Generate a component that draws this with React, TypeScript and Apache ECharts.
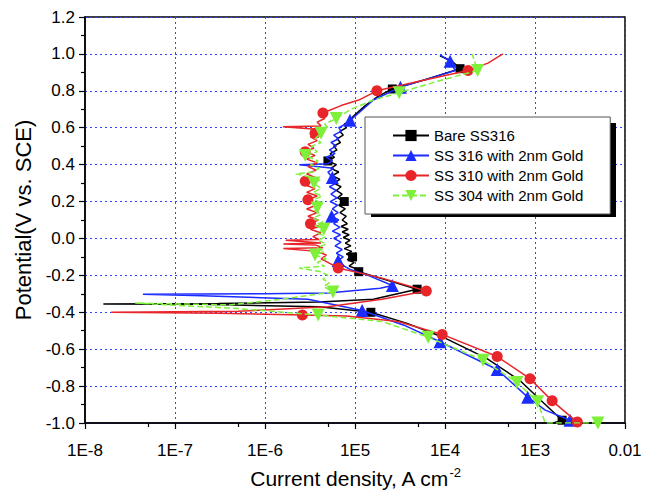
import React, { useEffect, useRef } from 'react';
import * as echarts from 'echarts';

const FONT = '"Liberation Sans", Arial, sans-serif';

const xTickLabels = ['1E-8', '1E-7', '1E-6', '1E5', '1E4', '1E3', '0.01'];
const xMinorTicks = [5e-8, 5e-7, 5e-6, 5e-5, 5e-4, 5e-3];
const seriesNames = ['Bare SS316', 'SS 316 with 2nm Gold', 'SS 310 with 2nm Gold', 'SS 304 with 2nm Gold'];

// [current density (A cm-2), potential (V vs SCE), marker shown (1/0)]
const bareSS316: number[][] = [
  [1.6e-3, -1.0, 0], [2.0e-3, -0.985, 1], [1.15e-3, -0.875, 0], [6.8e-4, -0.77, 0], [2.9e-4, -0.65, 0],
  [9.5e-5, -0.535, 0], [3.8e-5, -0.46, 0], [1.5e-5, -0.40, 1], [4e-6, -0.37, 0], [2e-7, -0.357, 0],
  [1.6e-8, -0.355, 0], [3e-7, -0.352, 0], [4e-6, -0.345, 0], [1.6e-5, -0.33, 0], [4.9e-5, -0.275, 1],
  [1.9e-5, -0.215, 0], [1.1e-5, -0.18, 1], [9.8e-6, -0.16, 0], [8.6e-6, -0.15, 0], [9.8e-6, -0.13, 0],
  [8.2e-6, -0.115, 0], [9.4e-6, -0.1, 1], [8.0e-6, -0.085, 0], [9.2e-6, -0.07, 0], [7.6e-6, -0.055, 0],
  [9.0e-6, -0.04, 0], [7.8e-6, -0.025, 0], [8.8e-6, -0.01, 0], [7.4e-6, 0.005, 0], [8.6e-6, 0.02, 0],
  [7.2e-6, 0.035, 0], [8.4e-6, 0.05, 0], [7.0e-6, 0.065, 0], [8.2e-6, 0.08, 0], [7.2e-6, 0.1, 0],
  [8.0e-6, 0.12, 0], [6.8e-6, 0.14, 0], [7.8e-6, 0.16, 0], [6.6e-6, 0.18, 0], [7.6e-6, 0.2, 1],
  [6.4e-6, 0.22, 0], [7.2e-6, 0.24, 0], [6.2e-6, 0.26, 0], [7.0e-6, 0.28, 0], [5.8e-6, 0.3, 0],
  [6.8e-6, 0.32, 0], [5.6e-6, 0.34, 0], [6.6e-6, 0.36, 0], [5.4e-6, 0.38, 0], [6.2e-6, 0.4, 0],
  [5.0e-6, 0.42, 1], [5.9e-6, 0.44, 0], [5.3e-6, 0.46, 0], [6.3e-6, 0.48, 0], [5.8e-6, 0.5, 0],
  [6.9e-6, 0.52, 0], [6.3e-6, 0.54, 0], [7.4e-6, 0.56, 0], [6.8e-6, 0.58, 0], [8.0e-6, 0.6, 0],
  [7.6e-6, 0.62, 0], [9.0e-6, 0.64, 0], [9.5e-6, 0.66, 0], [1.3e-5, 0.72, 0], [1.8e-5, 0.77, 0],
  [2.6e-5, 0.81, 1], [6e-5, 0.86, 0], [1.47e-4, 0.92, 1], [1.2e-4, 0.96, 0], [8.8e-5, 0.99, 0],
];

const ss316Gold: number[][] = [
  [2.2e-3, -1.0, 0], [2.45e-3, -0.985, 1], [1.3e-3, -0.93, 0], [8.3e-4, -0.86, 1], [3.8e-4, -0.71, 1],
  [8.8e-5, -0.56, 1], [3.5e-5, -0.47, 0], [1.2e-5, -0.39, 1], [3e-6, -0.33, 0], [2e-7, -0.31, 0],
  [4.4e-8, -0.303, 0], [1e-6, -0.30, 0], [5e-6, -0.295, 0], [1.9e-5, -0.27, 0], [2.6e-5, -0.255, 1],
  [1.4e-5, -0.2, 0], [9e-6, -0.17, 0], [7.6e-6, -0.15, 0], [6.5e-6, -0.12, 1], [7.4e-6, -0.1, 0],
  [6.2e-6, -0.08, 0], [7.2e-6, -0.06, 0], [6.0e-6, -0.04, 0], [7.0e-6, -0.02, 0], [5.8e-6, 0.0, 0],
  [6.9e-6, 0.02, 0], [5.6e-6, 0.04, 0], [6.8e-6, 0.06, 0], [5.8e-6, 0.08, 0], [6.6e-6, 0.1, 0],
  [5.5e-6, 0.12, 1], [6.5e-6, 0.14, 0], [5.6e-6, 0.16, 0], [6.4e-6, 0.18, 0], [5.3e-6, 0.2, 0],
  [6.3e-6, 0.22, 0], [5.4e-6, 0.24, 0], [6.2e-6, 0.26, 0], [5.2e-6, 0.28, 0], [6.2e-6, 0.3, 0],
  [5.6e-6, 0.33, 1], [5.0e-6, 0.36, 0], [5.8e-6, 0.38, 0], [2.4e-6, 0.40, 0], [5.0e-6, 0.405, 0],
  [5.6e-6, 0.42, 0], [4.8e-6, 0.44, 0], [6.0e-6, 0.46, 0], [5.2e-6, 0.48, 0], [6.2e-6, 0.5, 0],
  [5.4e-6, 0.52, 0], [6.6e-6, 0.54, 0], [5.8e-6, 0.56, 0], [7.0e-6, 0.58, 0], [6.6e-6, 0.6, 0],
  [7.8e-6, 0.62, 0], [8.8e-6, 0.64, 1], [1.1e-5, 0.68, 0], [1.6e-5, 0.75, 0], [3.2e-5, 0.82, 1],
  [7e-5, 0.87, 0], [1.3e-4, 0.91, 0], [1.14e-4, 0.96, 1], [8.8e-5, 0.995, 0],
];

const ss310Gold: number[][] = [
  [3.2e-3, -1.0, 0], [2.95e-3, -0.995, 1], [1.55e-3, -0.88, 1], [8.8e-4, -0.76, 1], [3.8e-4, -0.64, 1],
  [9.3e-5, -0.52, 1], [3e-5, -0.45, 0], [8e-6, -0.42, 0], [2.6e-6, -0.415, 1], [3e-7, -0.405, 0],
  [1.95e-8, -0.40, 0], [5e-7, -0.395, 0], [5e-6, -0.37, 0], [2e-5, -0.33, 0], [6.2e-5, -0.285, 1],
  [2e-5, -0.215, 0], [6.5e-6, -0.16, 1], [5e-6, -0.13, 0], [4.2e-6, -0.11, 0], [4.8e-6, -0.09, 0],
  [3.8e-6, -0.07, 0], [1.6e-6, -0.055, 0], [4.4e-6, -0.05, 0], [3.6e-6, -0.035, 0], [1.6e-6, -0.03, 0],
  [4.2e-6, -0.025, 0], [1.7e-6, -0.01, 0], [4.0e-6, -0.005, 0], [3.4e-6, 0.01, 0], [4.2e-6, 0.03, 0],
  [3.2e-6, 0.05, 0], [4.0e-6, 0.065, 0], [3.2e-6, 0.08, 1], [3.9e-6, 0.1, 0], [3.0e-6, 0.12, 0],
  [3.8e-6, 0.14, 0], [2.9e-6, 0.16, 0], [3.7e-6, 0.18, 0], [3.0e-6, 0.21, 1], [3.8e-6, 0.23, 0],
  [2.9e-6, 0.25, 0], [3.6e-6, 0.27, 0], [2.8e-6, 0.29, 0], [2.8e-6, 0.31, 1], [3.6e-6, 0.33, 0],
  [2.9e-6, 0.35, 0], [3.7e-6, 0.37, 0], [3.0e-6, 0.39, 0], [3.8e-6, 0.41, 0], [2.9e-6, 0.43, 0],
  [3.6e-6, 0.45, 0], [2.8e-6, 0.47, 1], [3.5e-6, 0.49, 0], [3.0e-6, 0.51, 0], [3.8e-6, 0.53, 0],
  [3.2e-6, 0.55, 0], [3.6e-6, 0.57, 1], [4.0e-6, 0.59, 0], [1.58e-6, 0.605, 0], [4.2e-6, 0.61, 0],
  [3.8e-6, 0.63, 0], [4.6e-6, 0.65, 0], [4.4e-6, 0.68, 1], [7e-6, 0.72, 0], [1.1e-5, 0.75, 0],
  [1.75e-5, 0.80, 1], [5e-5, 0.85, 0], [1.8e-4, 0.91, 1], [3e-4, 0.95, 0], [4.4e-4, 1.0, 0],
];

const ss304Gold: number[][] = [
  [5e-3, -1.0, 1], [1.3e-3, -1.0, 0], [1.07e-3, -0.885, 1], [6.3e-4, -0.78, 1], [2.65e-4, -0.66, 1],
  [6.5e-5, -0.535, 1], [2e-5, -0.45, 0], [3.9e-6, -0.415, 1], [5e-7, -0.38, 0], [3.6e-8, -0.35, 0],
  [4e-7, -0.36, 0], [1.5e-6, -0.33, 0], [5.7e-6, -0.29, 1], [4.5e-6, -0.26, 0], [5.2e-6, -0.24, 0],
  [4.4e-6, -0.22, 0], [5e-6, -0.2, 0], [4.2e-6, -0.18, 0], [2.4e-6, -0.16, 0], [4.6e-6, -0.15, 0],
  [3.8e-6, -0.13, 0], [4.8e-6, -0.11, 0], [3.6e-6, -0.09, 1], [4.6e-6, -0.07, 0], [3.8e-6, -0.05, 0],
  [4.8e-6, -0.03, 0], [3.9e-6, -0.01, 0], [4.7e-6, 0.01, 0], [3.8e-6, 0.03, 0], [4.5e-6, 0.05, 1],
  [3.6e-6, 0.07, 0], [4.4e-6, 0.09, 0], [3.4e-6, 0.11, 0], [4.2e-6, 0.13, 0], [3.6e-6, 0.15, 0],
  [3.8e-6, 0.165, 1], [4.4e-6, 0.19, 0], [3.5e-6, 0.21, 0], [4.3e-6, 0.23, 0], [3.4e-6, 0.25, 0],
  [4.2e-6, 0.27, 0], [3.5e-6, 0.3, 1], [4.2e-6, 0.32, 0], [2.2e-6, 0.35, 0], [3.4e-6, 0.36, 0],
  [4.0e-6, 0.38, 0], [3.2e-6, 0.4, 0], [3.9e-6, 0.42, 0], [2.8e-6, 0.45, 1], [3.8e-6, 0.47, 0],
  [3.3e-6, 0.5, 0], [4.2e-6, 0.52, 0], [3.6e-6, 0.54, 0], [4.2e-6, 0.57, 1], [5.0e-6, 0.6, 0],
  [4.6e-6, 0.62, 0], [6.2e-6, 0.65, 1], [9e-6, 0.70, 0], [1.6e-5, 0.75, 0], [3.1e-5, 0.79, 1],
  [8e-5, 0.85, 0], [2.3e-4, 0.91, 1], [2e-4, 1.0, 0],
];

const seriesData = [bareSS316, ss316Gold, ss310Gold, ss304Gold];
const seriesColors = ['#000000', '#1a2cff', '#e8262a', '#7ef03a'];
const seriesSymbols = ['rect', 'triangle', 'circle', 'triangle'];
const seriesSymbolSizes = [9, 13, 11, 13];
const seriesSymbolRotate = [0, 0, 0, 180];
const seriesLineTypes: any[] = ['solid', 'solid', 'solid', [6, 3]];

function toData(points: number[][]) {
  return points.map(([x, y, m]) => (m ? { value: [x, y] } : { value: [x, y], symbol: 'none' }));
}

export default function App() {
  const ref = useRef<HTMLDivElement>(null);
  useEffect(() => {
    if (!ref.current) return;
    const chart = echarts.init(ref.current, undefined, { renderer: 'svg' });
    const series = seriesNames.map((name, i) => ({
      type: 'line',
      name,
      data: toData(seriesData[i]),
      symbol: seriesSymbols[i],
      symbolSize: seriesSymbolSizes[i],
      symbolRotate: seriesSymbolRotate[i],
      showSymbol: true,
      color: seriesColors[i],
      itemStyle: { color: seriesColors[i] },
      lineStyle: { color: seriesColors[i], width: 1.5, type: seriesLineTypes[i] },
      z: 2 + i,
    }));
    const option: any = {
      animation: false,
      backgroundColor: '#fff',
      textStyle: { fontFamily: FONT },
      grid: {
        left: 85, right: 25, top: 17, bottom: 67,
        outerBoundsMode: 'none',
        containLabel: false,
        show: true, borderColor: '#000', borderWidth: 1.5, backgroundColor: 'transparent',
      },
      xAxis: [
        {
          type: 'log', logBase: 10, min: 1e-8, max: 1e-2, splitNumber: 6,
          position: 'bottom',
          axisLine: { show: true, onZero: false, lineStyle: { color: '#000', width: 1.5 } },
          axisTick: { show: true, inside: false, length: 6, lineStyle: { color: '#000', width: 1.2 } },
          splitLine: { show: true, lineStyle: { color: '#3344ff', type: [2, 3], width: 1 } },
          axisLabel: {
            color: '#000', fontSize: 17, fontFamily: FONT, margin: 19,
            formatter: (v: number) => xTickLabels[Math.round(Math.log10(v)) + 8] ?? '',
          },
          name: '{a|Current density, A cm}{b|-2}',
          nameLocation: 'middle',
          nameGap: 43,
          nameTextStyle: {
            rich: {
              a: { fontSize: 21, color: '#000', fontFamily: FONT, lineHeight: 24 },
              b: { fontSize: 13, color: '#000', fontFamily: FONT, verticalAlign: 'top', lineHeight: 14 },
            },
          },
        },
        {
          type: 'log', logBase: 10, min: 1e-8, max: 1e-2, position: 'bottom', gridIndex: 0,
          axisLine: { show: false, onZero: false },
          axisLabel: { show: false },
          splitLine: { show: false },
          axisTick: { show: true, inside: false, length: 4, customValues: xMinorTicks, lineStyle: { color: '#000', width: 1.2 } },
        },
      ],
      yAxis: {
        type: 'value', min: -1.0, max: 1.2, interval: 0.2,
        axisLine: { show: true, onZero: false, lineStyle: { color: '#000', width: 1.5 } },
        axisTick: { show: true, inside: false, length: 6, lineStyle: { color: '#000', width: 1.2 } },
        minorTick: { show: true, splitNumber: 2, length: 4, lineStyle: { color: '#000', width: 1.2 } },
        splitLine: { show: true, lineStyle: { color: '#3344ff', type: [2, 3], width: 1 } },
        axisLabel: {
          color: '#000', fontSize: 17, fontFamily: FONT, margin: 10,
          formatter: (v: number) => v.toFixed(1),
        },
        name: 'Potential(V vs. SCE)',
        nameLocation: 'middle',
        nameGap: 50,
        nameTextStyle: { fontSize: 22, color: '#000', fontFamily: FONT },
      },
      legend: {
        orient: 'vertical',
        left: 365, top: 117,
        padding: [11, 27, 11, 27],
        itemWidth: 36, itemHeight: 14, itemGap: 5,
        backgroundColor: '#fff',
        borderColor: '#555', borderWidth: 1,
        textStyle: { fontSize: 15, color: '#000', fontFamily: FONT },
        data: seriesNames,
        z: 10,
      },
      graphic: [
        {
          type: 'rect', z: 9,
          shape: { x: 371, y: 123, width: 245, height: 94 },
          style: { fill: '#000' },
        },
      ],
      series,
    };
    chart.setOption(option);
    return () => chart.dispose();
  }, []);
  return <div ref={ref} style={{ position: 'fixed', left: 0, top: 0, width: 650, height: 490 }} />;
}
